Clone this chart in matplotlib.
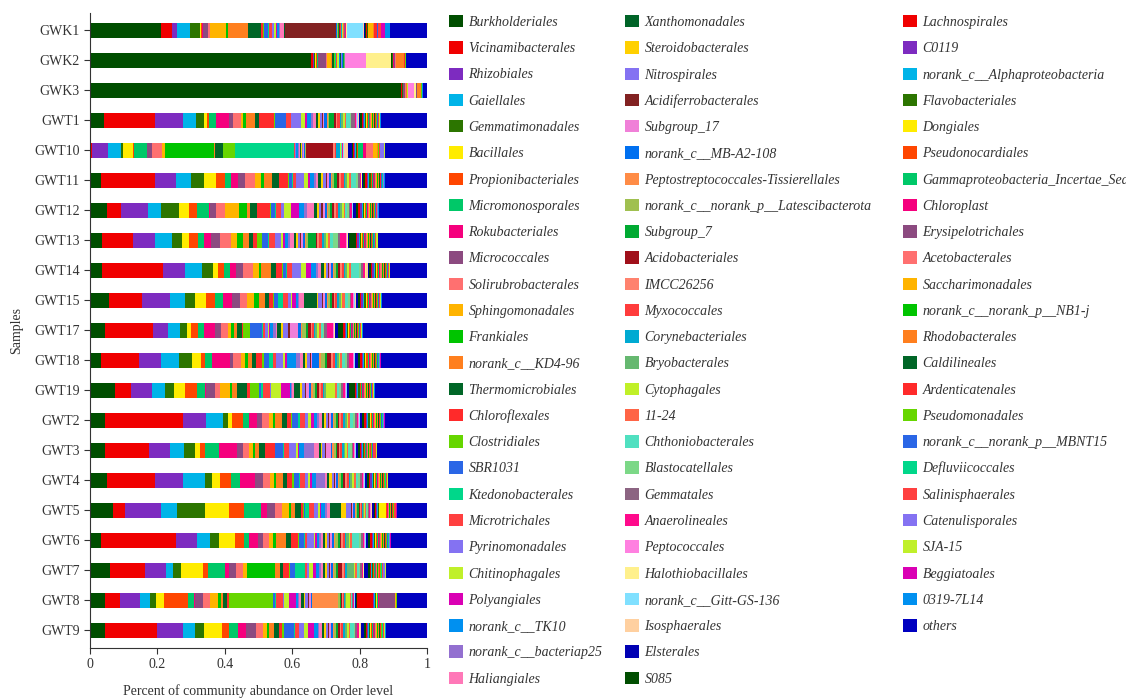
import numpy as np
import matplotlib.pyplot as plt
from matplotlib.patches import Patch

plt.rcParams["font.family"] = ["Liberation Serif", "DejaVu Serif"]

# taxa in stacking / legend order (three legend columns)
ORDERS_C1 = [
    "Burkholderiales", "Vicinamibacterales", "Rhizobiales", "Gaiellales",
    "Gemmatimonadales", "Bacillales", "Propionibacteriales", "Micromonosporales",
    "Rokubacteriales", "Micrococcales", "Solirubrobacterales", "Sphingomonadales",
    "Frankiales", "norank_c__KD4-96", "Thermomicrobiales", "Chloroflexales",
    "Clostridiales", "SBR1031", "Ktedonobacterales", "Microtrichales",
    "Pyrinomonadales", "Chitinophagales", "Polyangiales", "norank_c__TK10",
    "norank_c__bacteriap25", "Haliangiales",
]
ORDERS_C2 = [
    "Xanthomonadales", "Steroidobacterales", "Nitrospirales", "Acidiferrobacterales",
    "Subgroup_17", "norank_c__MB-A2-108", "Peptostreptococcales-Tissierellales",
    "norank_c__norank_p__Latescibacterota", "Subgroup_7", "Acidobacteriales",
    "IMCC26256", "Myxococcales", "Corynebacteriales", "Bryobacterales",
    "Cytophagales", "11-24", "Chthoniobacterales", "Blastocatellales",
    "Gemmatales", "Anaerolineales", "Peptococcales", "Halothiobacillales",
    "norank_c__Gitt-GS-136", "Isosphaerales", "Elsterales", "S085",
]
ORDERS_C3 = [
    "Lachnospirales", "C0119", "norank_c__Alphaproteobacteria", "Flavobacteriales",
    "Dongiales", "Pseudonocardiales", "Gammaproteobacteria_Incertae_Sedis",
    "Chloroplast", "Erysipelotrichales", "Acetobacterales", "Saccharimonadales",
    "norank_c__norank_p__NB1-j", "Rhodobacterales", "Caldilineales",
    "Ardenticatenales", "Pseudomonadales", "norank_c__norank_p__MBNT15",
    "Defluviicoccales", "Salinisphaerales", "Catenulisporales", "SJA-15",
    "Beggiatoales", "0319-7L14", "others",
]

PALETTE = [
    "#004E00", "#F00000", "#7D2BC0", "#00B4E8", "#2C7500", "#FFEC00", "#FF4600",
    "#00C868", "#F5007D", "#8C4A80", "#FF7070", "#FFB400", "#00C400", "#FF7F1E",
    "#006627", "#FF2A2A", "#66D600", "#2A66E6", "#00D78A", "#FF4040", "#8472F2",
    "#C0F02A", "#DA00B4", "#0090F0", "#9370D0", "#FF78B8",
]
COLORS_C1 = PALETTE
COLORS_C2 = [
    "#006428", "#FFD000", "#8472F2", "#822222", "#F080D8", "#0070F0", "#FF8C46",
    "#A0C050", "#00AA32", "#A0101A", "#FF826E", "#FF3C3C", "#00AAD2", "#66B870",
    "#C0F028", "#FF6446", "#50E0C0", "#7CD887", "#8C6482", "#FF0A8C", "#FF80E0",
    "#FFF08C", "#80E0FF", "#FFD0A0", "#0000B4", "#004E00",
]
COLORS_C3 = PALETTE[1:24] + ["#0000C0"]

SAMPLES = ["GWK1", "GWK2", "GWK3", "GWT1", "GWT10", "GWT11", "GWT12", "GWT13",
           "GWT14", "GWT15", "GWT17", "GWT18", "GWT19", "GWT2", "GWT3", "GWT4",
           "GWT5", "GWT6", "GWT7", "GWT8", "GWT9"]

# relative abundance (%) per sample, same order as the taxa above
GWK1 = [21.3, 3.2, 1.6, 3.8, 3.0, 0.2, 0.2, 0.2, 0.1, 1.5, 0.7, 4.7, 0.7, 6.1, 3.6, 0.7, 0.3, 1.2, 0.3, 0.8, 0.8, 0.4, 0.3, 0.8, 0.3, 1.0,
        0.3, 0.0, 0.1, 15.1, 0.2, 0.2, 0.1, 0.3, 0.3, 0.2, 0.1, 0.2, 0.2, 0.2, 0.3, 0.1, 0.1, 0.1, 0.1, 0.4, 0.1, 0.1, 5.0, 0.2, 0.4, 0.3,
        0.1, 0.1, 0.1, 0.1, 0.1, 0.1, 0.0, 0.0, 0.0, 0.0, 1.4, 0.1, 0.1, 0.0, 1.0, 0.1, 0.1, 0.0, 0.9, 0.1, 0.0, 1.2, 1.5, 11.0]
GWK2 = [65.8, 0.4, 0.3, 0.2, 0.3, 0.1, 0.4, 0.2, 0.2, 2.2, 0.3, 1.2, 0.2, 0.3, 0.3, 0.2, 0.1, 0.2, 0.1, 0.3, 0.2, 0.4, 0.1, 0.2, 0.1, 0.1,
        0.2, 0.1, 0.1, 0.1, 0.1, 0.1, 0.1, 0.1, 0.1, 0.1, 0.0, 0.1, 0.0, 0.1, 0.1, 0.0, 0.0, 0.0, 0.1, 0.0, 6.2, 7.4, 0.0, 0.0, 0.1, 0.1,
        0.1, 0.1, 0.0, 0.1, 0.0, 0.1, 0.1, 0.1, 0.5, 0.1, 0.1, 0.0, 2.5, 0.0, 0.1, 0.4, 0.0, 0.0, 0.0, 0.0, 0.0, 0.0, 0.0, 6.2]
GWK3 = [92.1, 0.2, 0.1, 0.1, 0.1, 0.0, 0.0, 0.0, 0.0, 0.8, 0.1, 0.2, 0.0, 0.1, 0.1, 0.1, 0.0, 0.0, 0.0, 0.0, 0.0, 0.1, 0.0, 0.0, 0.0, 0.0,
        0.1, 0.0, 0.0, 0.0, 0.1, 0.0, 0.0, 0.0, 0.0, 0.0, 0.0, 0.0, 0.0, 0.0, 0.0, 0.0, 0.0, 0.0, 0.0, 0.0, 1.6, 0.5, 0.1, 0.0, 0.0, 0.0,
        0.1, 0.0, 0.0, 0.0, 0.0, 0.0, 0.0, 0.0, 0.2, 0.1, 0.0, 0.0, 1.0, 0.0, 0.1, 0.4, 0.0, 0.0, 0.0, 0.0, 0.0, 0.0, 0.2, 1.2]
GWT1 = [4.0, 15.3, 8.1, 3.8, 2.5, 0.7, 0.8, 1.9, 4.0, 1.0, 2.5, 0.6, 0.8, 2.7, 1.1, 4.4, 0.5, 3.0, 0.1, 1.4, 3.0, 1.2, 0.6, 1.2, 0.6, 1.0,
        0.5, 0.5, 0.5, 0.3, 0.4, 1.0, 0.2, 0.4, 1.4, 0.6, 0.4, 0.6, 0.5, 0.6, 0.4, 0.4, 1.2, 0.4, 1.2, 0.3, 0.2, 0.1, 0.2, 0.1, 0.5, 0.4,
        0.4, 0.3, 0.3, 0.3, 0.2, 0.3, 0.3, 0.2, 0.3, 0.3, 0.2, 0.3, 0.3, 0.3, 0.3, 0.2, 0.2, 0.2, 0.2, 0.1, 0.1, 0.1, 0.2, 13.7]
GWT10 = [0.3, 0.2, 5.0, 3.6, 0.6, 3.0, 0.5, 3.8, 0.1, 1.5, 2.7, 1.0, 14.7, 0.2, 2.3, 0.1, 3.7, 0.0, 17.4, 0.3, 0.2, 0.1, 0.1, 0.4, 0.3, 0.5,
         0.3, 0.1, 0.4, 0.1, 0.1, 0.3, 0.1, 0.2, 0.2, 7.9, 0.5, 0.3, 1.2, 0.2, 0.2, 0.1, 0.1, 0.1, 0.1, 0.1, 0.1, 0.1, 0.1, 1.2, 1.3, 0.3,
         0.4, 0.2, 0.2, 0.4, 0.1, 0.1, 1.6, 0.7, 0.1, 2.0, 1.3, 0.1, 0.1, 0.1, 0.1, 0.1, 0.1, 0.1, 0.1, 1.4, 0.1, 0.0, 0.1, 12.5]
GWT11 = [3.3, 15.8, 6.3, 4.6, 3.7, 3.5, 2.8, 1.7, 2.0, 2.3, 2.9, 1.8, 0.8, 2.4, 2.0, 2.6, 0.3, 1.0, 0.4, 0.6, 2.4, 1.4, 0.4, 1.2, 0.6, 0.8,
         0.8, 0.5, 0.8, 0.4, 0.5, 0.8, 0.3, 0.5, 0.8, 0.6, 0.6, 0.8, 0.5, 0.6, 0.4, 0.6, 1.6, 0.5, 0.6, 0.4, 0.1, 0.1, 0.1, 0.1, 0.3, 0.6,
         0.4, 0.4, 0.3, 0.4, 0.2, 0.3, 0.3, 0.3, 0.2, 0.3, 0.2, 0.3, 0.3, 0.3, 0.3, 0.2, 0.2, 0.2, 0.2, 0.1, 0.1, 0.1, 0.1, 12.5]
GWT12 = [5.1, 4.1, 7.9, 4.0, 5.3, 3.0, 2.4, 3.6, 0.1, 1.8, 2.8, 4.2, 2.2, 0.8, 2.2, 3.8, 0.3, 1.2, 0.3, 1.4, 1.0, 2.2, 2.2, 1.6, 0.9, 2.0,
         0.9, 0.6, 0.6, 0.7, 0.4, 0.6, 0.3, 0.6, 0.6, 0.7, 0.5, 0.7, 0.4, 0.6, 0.6, 0.5, 0.6, 0.4, 0.5, 0.4, 0.1, 0.1, 0.1, 0.2, 0.8, 0.5,
         0.5, 0.6, 0.3, 0.4, 0.3, 0.3, 0.3, 0.2, 0.2, 0.3, 0.2, 0.3, 0.3, 0.3, 0.4, 0.2, 0.2, 0.2, 0.3, 0.1, 0.1, 0.1, 0.1, 14.3]
GWT13 = [3.5, 9.2, 6.6, 5.1, 2.8, 2.3, 2.5, 1.9, 2.0, 2.6, 3.2, 2.0, 1.7, 1.8, 1.2, 1.2, 1.4, 1.8, 0.4, 1.6, 2.0, 0.5, 0.5, 1.0, 0.5, 1.2,
         0.6, 0.5, 0.6, 0.3, 0.6, 0.8, 0.3, 0.6, 2.2, 0.5, 0.6, 0.7, 0.5, 0.8, 0.5, 0.6, 0.8, 1.6, 0.5, 2.0, 0.2, 0.2, 0.1, 0.1, 0.3, 1.8,
         0.5, 0.4, 0.3, 0.4, 0.3, 0.3, 0.3, 0.3, 0.2, 0.4, 0.2, 0.4, 0.3, 0.3, 0.3, 0.3, 0.2, 0.5, 0.2, 0.1, 0.4, 0.1, 0.1, 14.4]
GWT14 = [3.7, 17.9, 6.6, 5.1, 3.3, 1.3, 2.0, 1.7, 1.6, 2.3, 2.9, 1.8, 0.6, 2.8, 1.5, 2.0, 0.3, 0.8, 0.2, 1.6, 2.7, 1.5, 1.5, 1.5, 0.6, 0.8,
         0.8, 0.5, 0.7, 0.3, 0.5, 0.6, 0.3, 0.8, 0.6, 0.5, 0.6, 0.6, 0.4, 0.6, 0.4, 0.6, 2.4, 0.5, 0.8, 0.4, 0.2, 0.2, 0.1, 0.6, 0.3, 0.5,
         0.4, 0.4, 0.3, 0.4, 0.2, 0.3, 0.3, 0.3, 0.2, 0.3, 0.2, 0.3, 0.3, 0.3, 0.3, 0.2, 0.2, 0.2, 0.2, 0.1, 0.1, 0.1, 0.1, 10.9]
GWT15 = [5.6, 9.9, 8.2, 4.5, 3.0, 3.0, 2.8, 2.4, 2.5, 2.5, 2.1, 2.0, 1.5, 1.7, 1.3, 1.0, 0.5, 1.2, 1.4, 1.4, 1.0, 0.4, 1.0, 0.6, 0.4, 1.4,
         3.8, 0.5, 1.0, 0.3, 0.6, 0.5, 0.4, 0.5, 0.6, 0.6, 0.5, 0.6, 0.4, 0.6, 0.5, 0.6, 1.0, 0.5, 0.5, 0.5, 0.2, 0.2, 0.1, 0.3, 0.6, 0.6,
         0.5, 0.5, 0.4, 0.4, 0.3, 0.4, 0.3, 0.3, 0.2, 0.3, 0.3, 0.3, 0.3, 0.3, 0.3, 0.3, 0.2, 0.2, 0.2, 0.1, 0.2, 0.1, 0.2, 13.3]
GWT17 = [4.5, 14.2, 4.5, 3.5, 2.0, 1.2, 2.0, 2.0, 3.0, 2.0, 2.0, 1.0, 0.8, 0.8, 1.5, 0.3, 2.0, 3.5, 0.5, 0.5, 1.0, 0.3, 0.3, 0.8, 1.0, 0.3,
         1.0, 0.6, 1.5, 0.5, 2.5, 0.8, 0.4, 1.2, 0.7, 0.6, 0.5, 0.6, 0.3, 0.5, 0.6, 0.6, 0.5, 0.4, 0.8, 2.0, 0.2, 0.2, 0.1, 0.1, 0.8, 1.5,
         0.4, 0.4, 0.3, 0.4, 0.2, 0.3, 0.3, 0.3, 0.2, 0.3, 0.2, 0.3, 0.3, 0.3, 0.3, 0.2, 0.2, 0.2, 0.2, 0.1, 0.1, 0.1, 0.1, 19.1]
GWT18 = [3.3, 11.1, 6.7, 5.2, 4.0, 2.5, 1.2, 2.1, 5.3, 1.0, 2.3, 1.2, 0.8, 1.3, 1.2, 1.8, 0.4, 1.5, 1.2, 0.8, 2.3, 0.6, 0.6, 2.5, 1.2, 1.0,
         0.6, 0.5, 0.8, 0.3, 0.5, 2.0, 0.4, 1.4, 0.6, 1.0, 0.6, 0.8, 0.4, 0.6, 0.5, 0.6, 0.8, 0.6, 0.5, 1.2, 0.2, 0.2, 0.1, 0.2, 0.8, 0.6,
         0.5, 0.4, 0.3, 0.4, 0.3, 0.3, 0.3, 0.3, 0.2, 0.3, 0.2, 0.3, 0.3, 0.3, 0.3, 0.3, 0.2, 0.3, 0.2, 0.1, 0.2, 0.1, 0.1, 13.6]
GWT19 = [7.4, 4.8, 6.1, 4.0, 2.5, 3.2, 3.8, 2.3, 0.2, 2.7, 1.5, 3.0, 0.5, 1.5, 2.8, 1.0, 2.8, 0.5, 0.5, 2.2, 0.3, 3.0, 2.5, 0.5, 0.3, 0.5,
         1.7, 0.6, 0.8, 0.5, 0.8, 0.6, 0.5, 0.8, 0.6, 0.5, 0.5, 0.6, 0.4, 0.5, 2.8, 0.6, 0.6, 0.5, 0.6, 0.5, 0.2, 0.2, 0.1, 0.2, 0.4, 1.8,
         0.4, 0.4, 0.3, 0.4, 0.2, 0.3, 0.3, 0.3, 0.2, 0.3, 0.2, 0.3, 0.3, 0.3, 0.3, 0.3, 0.2, 0.2, 0.2, 0.1, 0.2, 0.1, 0.1, 15.5]
GWT2 = [4.3, 23.3, 6.8, 5.0, 1.5, 1.2, 3.2, 1.8, 2.3, 1.4, 2.1, 1.2, 0.5, 2.3, 1.5, 1.0, 0.4, 1.6, 0.6, 1.5, 1.0, 0.8, 1.0, 1.0, 0.5, 0.8,
        0.7, 0.5, 0.6, 0.3, 0.5, 0.6, 0.3, 0.6, 0.6, 0.5, 0.5, 0.6, 0.4, 0.6, 0.5, 0.5, 1.0, 0.5, 0.5, 0.5, 0.2, 0.1, 0.1, 0.2, 0.6, 0.5,
        0.5, 0.4, 0.3, 0.4, 0.3, 0.3, 0.3, 0.3, 0.2, 0.3, 0.2, 0.3, 0.3, 0.3, 0.3, 0.3, 0.2, 0.3, 0.2, 0.1, 0.2, 0.1, 0.1, 12.4]
GWT3 = [4.3, 13.1, 6.2, 4.0, 3.2, 1.5, 1.7, 4.0, 5.4, 1.6, 1.9, 1.0, 0.6, 1.4, 1.6, 2.9, 0.2, 2.3, 0.3, 1.3, 2.2, 0.6, 0.4, 1.4, 3.0, 1.3,
        0.6, 0.5, 0.6, 0.3, 1.6, 0.4, 0.4, 0.6, 0.5, 0.5, 0.4, 0.5, 0.4, 0.5, 0.4, 0.5, 0.6, 0.4, 0.4, 0.4, 0.2, 0.1, 0.1, 0.1, 0.6, 0.5,
        0.3, 0.3, 0.2, 0.3, 0.2, 0.2, 0.2, 0.2, 0.2, 0.2, 0.2, 0.2, 0.2, 0.2, 0.3, 0.2, 0.2, 0.2, 0.8, 0.1, 0.1, 0.1, 0.1, 14.6]
GWT4 = [5.1, 14.2, 8.1, 6.5, 2.2, 2.2, 3.5, 2.5, 4.6, 2.2, 2.2, 1.0, 0.8, 1.8, 1.4, 1.5, 0.5, 1.5, 0.3, 1.3, 1.0, 0.5, 0.8, 1.2, 2.5, 0.5,
        0.7, 0.8, 0.6, 0.3, 0.5, 0.6, 0.3, 0.6, 0.6, 0.5, 0.5, 0.6, 0.4, 0.6, 0.5, 0.5, 0.8, 0.5, 0.5, 0.5, 0.2, 0.1, 0.1, 0.2, 0.6, 0.5,
        0.4, 0.4, 0.3, 0.3, 0.2, 0.3, 0.3, 0.3, 0.2, 0.3, 0.2, 0.3, 0.3, 0.3, 0.3, 0.2, 0.2, 0.2, 0.2, 0.1, 0.2, 0.1, 0.1, 11.4]
GWT5 = [6.7, 3.7, 10.7, 4.6, 8.6, 7.0, 4.5, 5.0, 1.7, 2.5, 2.0, 2.2, 0.6, 1.0, 2.0, 0.5, 0.3, 0.3, 1.2, 1.5, 1.0, 0.8, 0.3, 1.0, 0.6, 1.0,
        3.2, 1.5, 1.5, 0.3, 0.4, 0.4, 0.3, 0.5, 0.4, 0.3, 0.3, 0.4, 0.3, 0.4, 0.3, 0.3, 0.3, 0.3, 0.3, 0.3, 0.1, 0.1, 0.1, 0.1, 0.6, 0.3,
        0.3, 0.3, 0.4, 0.3, 2.0, 0.2, 0.2, 0.1, 0.1, 0.2, 0.2, 0.2, 0.3, 0.2, 0.5, 0.1, 0.1, 0.1, 0.4, 0.1, 0.1, 0.1, 0.1, 8.9]
GWT6 = [3.3, 22.0, 6.1, 4.0, 2.5, 4.8, 2.5, 1.5, 2.8, 1.4, 1.8, 1.3, 0.7, 3.0, 1.5, 2.0, 0.3, 1.5, 0.3, 0.5, 2.0, 0.5, 0.4, 0.8, 0.5, 0.6,
        0.6, 0.5, 0.7, 0.3, 0.6, 0.6, 0.3, 0.7, 0.6, 0.5, 0.5, 0.6, 0.4, 0.6, 0.5, 0.5, 2.2, 0.5, 0.5, 0.4, 0.2, 0.1, 0.1, 0.2, 0.6, 0.5,
        0.5, 0.4, 0.3, 0.4, 0.3, 0.3, 0.3, 0.3, 0.2, 0.3, 0.2, 0.3, 0.3, 0.3, 0.3, 0.3, 0.2, 0.3, 0.2, 0.1, 0.2, 0.1, 0.1, 10.6]
GWT7 = [5.9, 10.4, 6.2, 2.2, 2.3, 6.6, 1.5, 5.0, 1.0, 2.3, 1.9, 1.3, 8.4, 1.3, 1.0, 1.7, 0.3, 1.5, 3.0, 0.5, 0.6, 1.2, 1.0, 0.8, 0.6, 0.6,
        0.6, 0.5, 0.6, 0.3, 0.5, 0.6, 0.3, 0.6, 0.6, 1.2, 0.4, 0.5, 0.4, 2.0, 0.4, 0.5, 0.6, 0.5, 0.4, 0.4, 0.1, 0.1, 0.1, 0.1, 1.2, 0.4,
        0.3, 0.2, 0.2, 0.2, 0.2, 0.2, 0.2, 0.2, 0.2, 0.2, 0.2, 0.2, 0.2, 0.2, 0.2, 0.2, 0.1, 0.2, 0.2, 0.8, 0.1, 0.1, 0.1, 12.1]
GWT8 = [4.5, 4.5, 5.9, 3.0, 1.7, 2.3, 7.1, 2.0, 0.1, 2.5, 1.9, 2.5, 0.8, 0.7, 1.3, 0.5, 13.2, 0.5, 0.2, 2.0, 0.3, 1.7, 2.0, 0.6, 0.4, 0.5,
        0.8, 0.3, 1.0, 0.3, 0.5, 0.4, 7.7, 0.5, 0.4, 0.3, 0.3, 0.3, 0.3, 0.3, 1.0, 0.3, 0.3, 0.2, 0.2, 0.2, 0.1, 0.1, 0.1, 0.1, 0.3, 0.2,
        5.0, 0.2, 0.3, 0.2, 0.2, 0.2, 0.2, 0.2, 5.0, 0.0, 0.1, 0.0, 0.1, 0.0, 0.1, 0.2, 0.0, 0.0, 0.0, 0.0, 0.0, 0.0, 0.0, 8.9]
GWT9 = [4.3, 15.5, 7.6, 3.5, 2.6, 5.3, 2.0, 2.8, 2.3, 2.9, 2.1, 1.2, 0.7, 1.3, 1.5, 1.0, 0.5, 3.0, 0.3, 1.2, 1.5, 1.2, 1.5, 1.2, 0.5, 0.8,
        0.7, 0.5, 0.6, 0.3, 0.5, 0.6, 0.3, 0.6, 0.6, 0.5, 0.5, 0.6, 0.4, 0.6, 0.5, 0.5, 1.0, 0.5, 0.5, 0.5, 0.2, 0.1, 0.1, 0.2, 0.9, 0.5,
        0.4, 0.4, 0.3, 0.3, 0.3, 0.3, 0.3, 0.3, 0.2, 0.3, 0.2, 0.3, 0.3, 0.3, 0.3, 0.3, 0.2, 0.2, 0.2, 0.1, 0.2, 0.1, 0.1, 12.2]

ABUNDANCE = [GWK1, GWK2, GWK3, GWT1, GWT10, GWT11, GWT12, GWT13, GWT14, GWT15,
             GWT17, GWT18, GWT19, GWT2, GWT3, GWT4, GWT5, GWT6, GWT7, GWT8, GWT9]

orders = ORDERS_C1 + ORDERS_C2 + ORDERS_C3
colors = COLORS_C1 + COLORS_C2 + COLORS_C3

data = np.array(ABUNDANCE, dtype=float)
data = data / data.sum(axis=1, keepdims=True)  # percent of community

W, H = 1126, 700
fig = plt.figure(figsize=(W / 100, H / 100), dpi=100)
ax = fig.add_axes([90 / W, 52 / H, 337 / W, 635 / H])

y = np.arange(len(SAMPLES))
left = np.zeros(len(SAMPLES))
for j, (name, color) in enumerate(zip(orders, colors)):
    ax.barh(y, data[:, j], left=left, height=0.5, color=color, linewidth=0)
    left += data[:, j]

ax.set_xlim(0, 1)
ax.set_ylim(len(SAMPLES) - 0.4, -0.57)
ax.set_yticks(y)
ax.set_yticklabels(SAMPLES, fontsize=10, color="#333333")
ax.set_xticks([0, 0.2, 0.4, 0.6, 0.8, 1])
ax.set_xticklabels(["0", "0.2", "0.4", "0.6", "0.8", "1"], fontsize=10, color="#333333")
ax.tick_params(axis="both", length=4, width=0.8, color="#333333")
for side in ("top", "right"):
    ax.spines[side].set_visible(False)
for side in ("left", "bottom"):
    ax.spines[side].set_linewidth(0.8)
    ax.spines[side].set_color("#333333")

ax.set_xlabel("Percent of community abundance on Order level", fontsize=10, color="#333333")
ax.xaxis.set_label_coords(0.5, -0.057)
ax.set_ylabel("Samples", fontsize=10, color="#333333")
ax.yaxis.set_label_coords(-0.198, 0.5)

# one legend per column, column-major like the stacking order
columns = [(ORDERS_C1, COLORS_C1, 449), (ORDERS_C2, COLORS_C2, 625), (ORDERS_C3, COLORS_C3, 903)]
for names, cols, x0 in columns:
    handles = [Patch(facecolor=c, edgecolor="none") for c in cols]
    fig.legend(handles, names, loc="upper left", bbox_to_anchor=(x0 / W, 1 - 15 / H),
               frameon=False, borderpad=0, borderaxespad=0, handlelength=1.0,
               handleheight=1.0, handletextpad=0.4, labelspacing=0.885,
               prop={"size": 10, "style": "italic"}, labelcolor="#333333")

fig.savefig("out.png", dpi=100)
